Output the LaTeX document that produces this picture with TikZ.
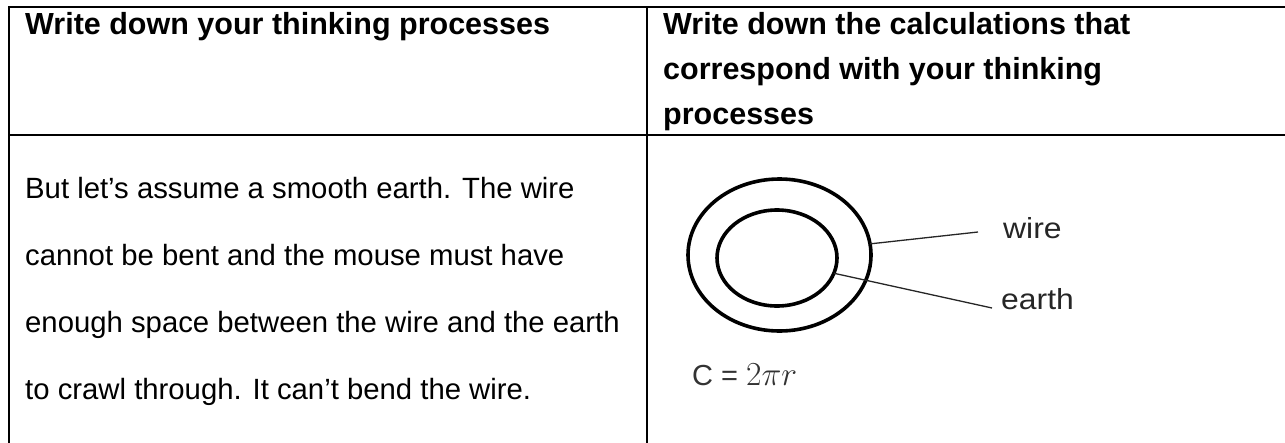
\documentclass[tikz,border=0pt]{standalone}
\usepackage{graphicx}
\usepackage{fontspec}
\setmainfont{Liberation Sans}
\usetikzlibrary{shapes.geometric}
\begin{document}
\begin{tikzpicture}[x=1pt,y=-1pt,
  rule/.style={line width=2pt, black, line cap=rect},
  ring/.style={draw, ellipse, line width=3.6pt, inner sep=0pt, outer sep=0pt},
  lead/.style={line width=1.3pt, black!85},
  head/.style={anchor=base west, inner sep=0pt, font=\fontsize{30.5}{30}\selectfont\bfseries},
  body/.style={anchor=base west, inner sep=0pt, font=\fontsize{29.3}{30}\selectfont},
  lbl/.style={anchor=base west, inner sep=0pt, font=\fontsize{29}{29}\selectfont, text=black!85},
]
\useasboundingbox (0,0) rectangle (1285,442);
% table rules
\coordinate (tl) at (9,7);
\coordinate (tr) at (1285,7);
\coordinate (ml) at (9,135);
\coordinate (mr) at (1285,135);
\coordinate (bl) at (9,442);
\coordinate (mt) at (647,7);
\coordinate (mb) at (647,442);
\draw[rule] (tl) -- (tr);
\draw[rule] (ml) -- (mr);
\draw[rule] (tl) -- (bl);
\draw[rule] (mt) -- (mb);
% header texts
\node[head] (h1) at (25,34) {Write down your thinking processes};
\node[head] (h2a) at (663,34) {Write down the calculations that};
\node[head] (h2b) at (663,79) {correspond with your thinking};
\node[head] (h2c) at (663,124) {processes};
% body text
\node[body] (b1) at (25,198) {But let’s assume a smooth earth. The wire};
\node[body] (b2) at (25,265) {cannot be bent and the mouse must have};
\node[body] (b3) at (25,332) {enough space between the wire and the earth};
\node[body] (b4) at (25,399) {to crawl through. It can’t bend the wire.};
% figure
\node[ring, minimum width=183pt, minimum height=152pt] (outer) at (779.5,255) {};
\node[ring, minimum width=120pt, minimum height=96pt] (inner) at (777,258) {};
\node[lbl] (wire) at (1003,238) {\scalebox{1.1}[1]{wire}};
\node[lbl] (earth) at (1001,309) {\scalebox{1.1}[1]{earth}};
\coordinate (wend) at (978,232);
\coordinate (eend) at (992,308);
\draw[lead] (outer.7) -- (wend);
\draw[lead] (inner.-15) -- (eend);
\node[lbl, text=black!80] (formula) at (692,385) {C = \scalebox{1.35}{$2\pi r$}};
\end{tikzpicture}
\end{document}
